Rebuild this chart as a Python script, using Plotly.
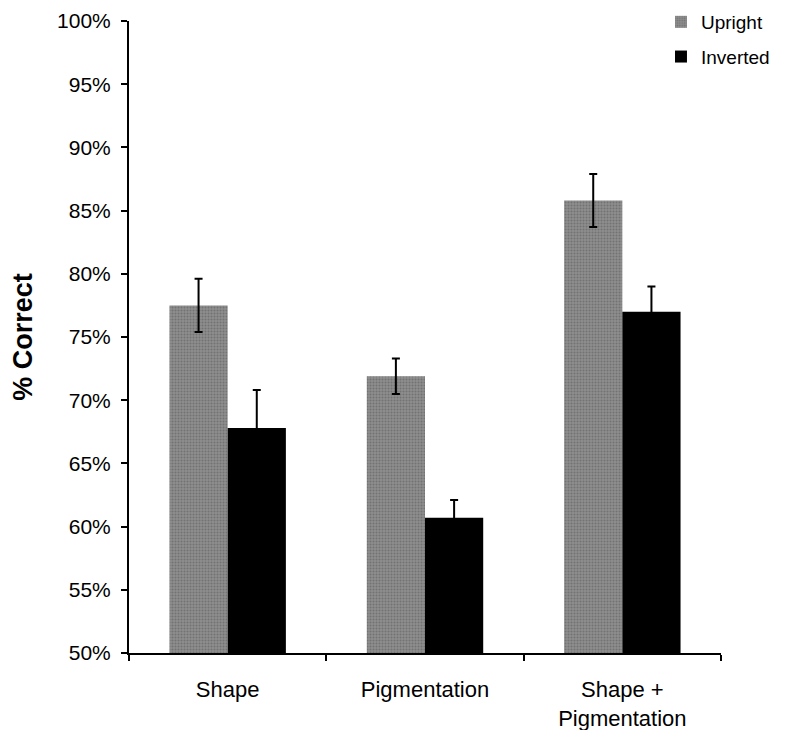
import plotly.graph_objects as go

categories = ["Shape", "Pigmentation", "Shape +<br>Pigmentation"]
upright = [77.5, 71.9, 85.8]
upright_err = [2.1, 1.4, 2.1]
inverted = [67.8, 60.7, 77.0]
inverted_err = [3.0, 1.4, 2.0]
y_ticks = [50, 55, 60, 65, 70, 75, 80, 85, 90, 95, 100]
y_tick_labels = [f"{v}%" for v in y_ticks]

FONT = "Liberation Sans, Arial, sans-serif"

fig = go.Figure()
fig.add_trace(go.Bar(
    name="Upright", x=categories, y=upright,
    marker=dict(color="#808080", line=dict(width=0),
                pattern=dict(shape=".", fgcolor="#555555", bgcolor="#8e8e8e",
                             size=3, solidity=0.4)),
    error_y=dict(type="data", array=upright_err, visible=True,
                 color="black", thickness=2, width=4),
    legendgroup="u",
))
fig.add_trace(go.Bar(
    name="Inverted", x=categories, y=inverted,
    marker=dict(color="black", line=dict(width=0)),
    error_y=dict(type="data", array=inverted_err, visible=True,
                 color="black", thickness=2, width=4),
    legendgroup="i",
))

fig.update_layout(
    width=785, height=730,
    margin=dict(l=121, r=72, t=13, b=85, autoexpand=False),
    paper_bgcolor="white", plot_bgcolor="white",
    barmode="group", bargap=0.41, bargroupgap=0,
    font=dict(family=FONT, color="black", size=21),
    showlegend=True,
    legend=dict(x=0.8986, y=1.0285, xanchor="left", yanchor="top",
                font=dict(size=19, family=FONT, color="black"),
                bgcolor="rgba(0,0,0,0)", tracegroupgap=7),
    xaxis=dict(
        type="category", showline=True, linecolor="black", linewidth=2,
        ticks="outside", tickson="boundaries", ticklen=6, tickwidth=2,
        tickcolor="black", showgrid=False, zeroline=False, automargin=False,
        ticklabelstandoff=16,
        tickfont=dict(size=22, family=FONT, color="black"),
    ),
    yaxis=dict(
        range=[50, 100], tickvals=y_ticks, ticktext=y_tick_labels,
        showline=True, linecolor="black", linewidth=2,
        ticks="outside", ticklen=6, tickwidth=2, tickcolor="black",
        showgrid=False, zeroline=False, automargin=False,
        ticklabelstandoff=6,
        tickfont=dict(size=21, family=FONT, color="black"),
        title=dict(text="<b>% Correct</b>", font=dict(size=27, family=FONT, color="black"),
                   standoff=20),
    ),
)

fig.write_html("out.html")
